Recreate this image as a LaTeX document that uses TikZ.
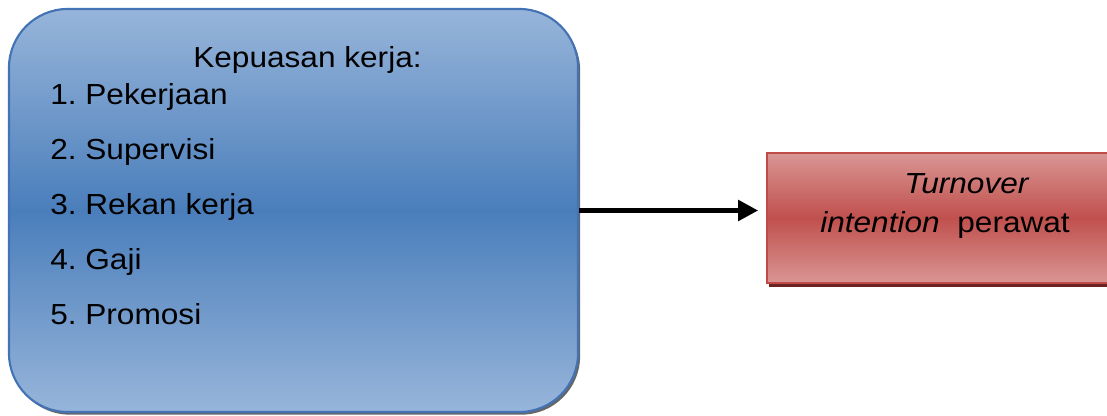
\documentclass[tikz,border=0pt]{standalone}
\usepackage{fontspec}
\setmainfont{Liberation Sans}[FakeStretch=1.09]
\usetikzlibrary{shadows,arrows.meta}

\definecolor{blueLight}{HTML}{97B5DA}
\definecolor{blueDark}{HTML}{4A7EBB}
\definecolor{blueEdge}{HTML}{4373B5}
\definecolor{redLight}{HTML}{D99694}
\definecolor{redDark}{HTML}{C0504D}
\definecolor{redEdge}{HTML}{BE4B48}
\definecolor{redShade}{HTML}{6B2321}

\tikzset{
  factorbox/.style={draw=blueEdge, line width=1.6pt, rounded corners=44pt,
    top color=blueLight, bottom color=blueLight, middle color=blueDark,
    minimum width=426.75pt, minimum height=302.25pt, inner sep=0pt,
    drop shadow={shadow xshift=1.6pt, shadow yshift=-2pt, fill=black, opacity=0.6}},
  outcomebox/.style={draw=redEdge, line width=1.2pt,
    top color=redLight, bottom color=redLight, middle color=redDark,
    minimum width=264.75pt, minimum height=97.5pt, inner sep=0pt,
    drop shadow={shadow xshift=1.5pt, shadow yshift=-2.8pt, fill=redShade, opacity=1}},
  label/.style={anchor=base west, inner sep=0pt,
    font=\fontsize{21.75pt}{26pt}\selectfont\frenchspacing},
  link/.style={line width=3.8pt, -{Triangle[length=15pt, width=15pt]}, shorten >=6pt}
}

\begin{document}
\begin{tikzpicture}[x=0.75pt, y=-0.75pt]
  \useasboundingbox (0,0) rectangle (1107,416);
  \clip (0,0) rectangle (1107,416);

  % boxes
  \node[factorbox] (src) at (293.5,210.5) {};
  \node[outcomebox] (dst) at (943.5,218) {};

  % texts of the left box
  \node[label] (title) at (193,68) {Kepuasan kerja:};
  \node[label] (i1) at (50,105) {1. Pekerjaan};
  \node[label] (i2) at (50,160) {2. Supervisi};
  \node[label] (i3) at (50,215) {3. Rekan kerja};
  \node[label] (i4) at (50,270) {4. Gaji};
  \node[label] (i5) at (50,325) {5. Promosi};

  % texts of the right box
  \node[label] (t1) at (904,194) {\itshape Turnover};
  \node[label] (t2) at (820,233) {\textit{intention}\ \ perawat};

  % connector
  \draw[link] (src.east) -- (src.east -| dst.west);
\end{tikzpicture}
\end{document}
